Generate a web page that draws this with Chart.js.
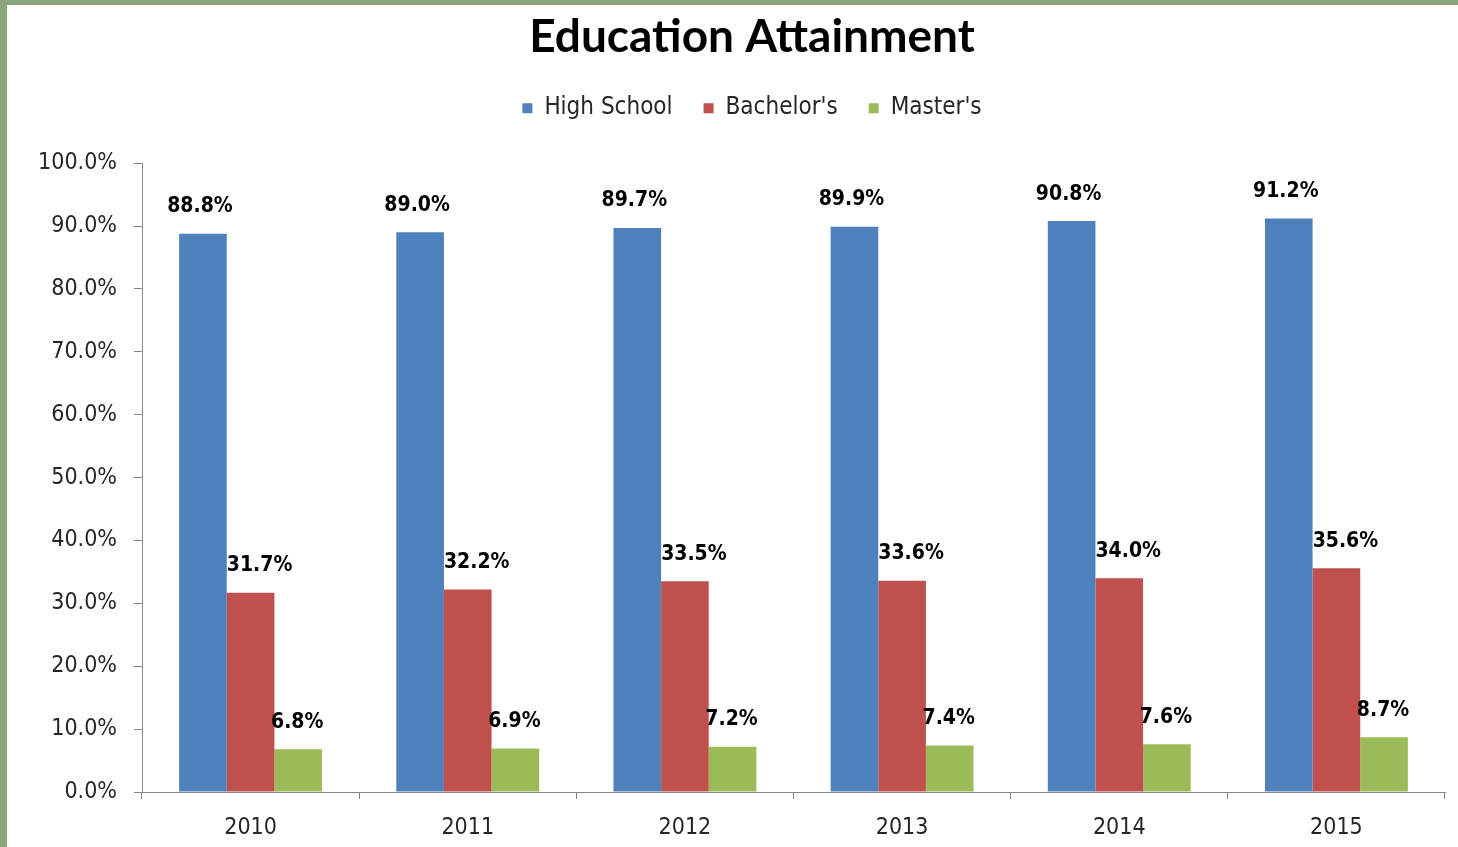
<!DOCTYPE html>
<html>
<head>
<meta charset="utf-8">
<title>Education Attainment</title>
<script src="https://cdn.jsdelivr.net/npm/chart.js@4.4.1/dist/chart.umd.min.js"></script>
<style>
  html, body {
    margin: 0;
    padding: 0;
    background: #8ca47e;
  }
  #wrap {
    position: absolute;
    left: 7px;
    top: 5px;
    width: 1451px;
    height: 842px;
    background: #ffffff;
  }
</style>
</head>
<body>
<div id="wrap">
  <canvas id="attainment" width="1451" height="842"></canvas>
</div>
<script>
const years = ["2010", "2011", "2012", "2013", "2014", "2015"]
const highSchool = [88.8, 89.0, 89.7, 89.9, 90.8, 91.2]
const bachelors = [31.7, 32.2, 33.5, 33.6, 34.0, 35.6]
const masters = [6.8, 6.9, 7.2, 7.4, 7.6, 8.7]

const axisColor = "#868686"
const textFont = "'DejaVu Sans Condensed', 'DejaVu Sans', sans-serif"

// value labels sitting above each bar (small per-series horizontal nudge)
const labelNudge = [-3, 9, -1]
const barLabels = {
  id: "barLabels",
  afterDatasetsDraw(chart) {
    const ctx = chart.ctx
    ctx.save()
    ctx.font = "bold 21px " + textFont
    ctx.fillStyle = "#000000"
    ctx.textAlign = "center"
    ctx.textBaseline = "middle"
    chart.data.datasets.forEach((ds, i) => {
      chart.getDatasetMeta(i).data.forEach((bar, j) => {
        ctx.fillText(ds.data[j].toFixed(1) + "%", bar.x + labelNudge[i], bar.y - 27)
      })
    })
    ctx.restore()
  }
}

// extra room between the legend and the plot
const legendGap = {
  id: "legendGap",
  beforeInit(chart) {
    const fit = chart.legend.fit
    chart.legend.fit = function() {
      fit.bind(chart.legend)()
      this.height += 33
    }
  }
}

// nudge title and legend a little to the right of the canvas centre
const headerShift = {
  id: "headerShift",
  afterLayout(chart) {
    [chart.titleBlock, chart.legend].forEach((box) => {
      box.left += 26
      box.right += 26
    })
  }
}

const ctx = document.getElementById("attainment")

new Chart(ctx, {
  type: "bar",
  data: {
    labels: years,
    datasets: [
      { label: "High School", data: highSchool, backgroundColor: "#4F81BD" },
      { label: "Bachelor's", data: bachelors, backgroundColor: "#C0504D" },
      { label: "Master's", data: masters, backgroundColor: "#9BBB59" },
    ],
  },
  options: {
    responsive: false,
    animation: false,
    devicePixelRatio: 1,
    categoryPercentage: 0.658,
    barPercentage: 1.0,
    layout: {
      padding: { left: 0, right: 13, top: 0, bottom: 0 }
    },
    plugins: {
      title: {
        display: true,
        text: "Education Attainment",
        color: "#000000",
        font: { family: "Lato, 'Open Sans', sans-serif", size: 46, weight: "bold", lineHeight: 1.2 },
        padding: { top: 5, bottom: 0 },
      },
      legend: {
        display: true,
        position: "top",
        labels: {
          color: "#262626",
          font: { family: textFont, size: 24 },
          boxWidth: 10,
          boxHeight: 10,
          padding: 31,
        },
      },
      tooltip: { enabled: false },
    },
    scales: {
      x: {
        grid: {
          drawOnChartArea: false,
          tickLength: 7,
          color: axisColor,
        },
        border: { color: axisColor, width: 1 },
        ticks: {
          color: "#262626",
          font: { family: textFont, size: 23 },
          padding: 15,
        },
        afterFit(scale) {
          scale.height = 55
        },
      },
      y: {
        min: 0,
        max: 100,
        grid: {
          drawOnChartArea: false,
          tickLength: 8,
          color: axisColor,
        },
        border: { color: axisColor, width: 1 },
        ticks: {
          stepSize: 10,
          color: "#262626",
          font: { family: textFont, size: 23 },
          padding: 17,
          callback: (value) => value.toFixed(1) + "%",
        },
        afterFit(scale) {
          scale.width = 135
        },
      },
    },
  },
  plugins: [barLabels, legendGap, headerShift],
})
</script>
</body>
</html>
